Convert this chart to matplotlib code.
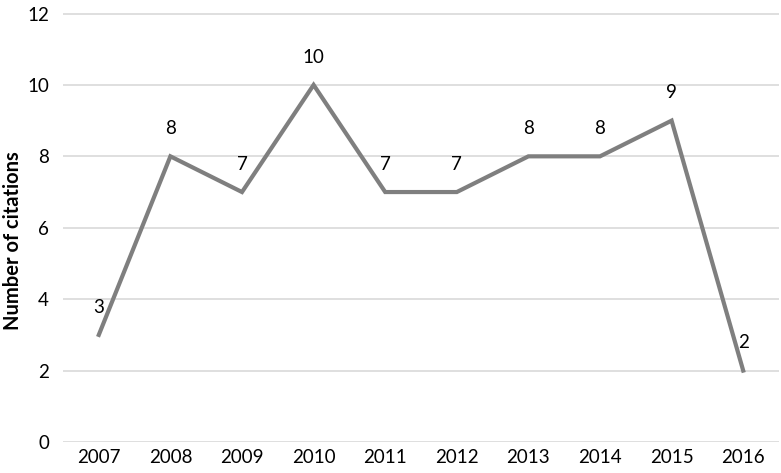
import matplotlib
matplotlib.use("Agg")
import matplotlib.pyplot as plt

years = ["2007", "2008", "2009", "2010", "2011", "2012", "2013", "2014", "2015", "2016"]
citations = [3, 8, 7, 10, 7, 7, 8, 8, 9, 2]

plt.rcParams['font.family'] = ['Lato', 'DejaVu Sans']

fig = plt.figure(figsize=(7.81, 4.73), dpi=100)
ax = fig.add_axes([63/781, 31/473, 716/781, 428.5/473])

x = range(len(years))
ax.plot(x, citations, color='#7f7f7f', linewidth=3.0, solid_joinstyle='miter')

for xi, v in zip(x, citations):
    ax.annotate(str(v), (xi, v), xytext=(0, 16), textcoords='offset points',
                ha='center', va='baseline', fontsize=13.5, color='#000000')

ax.set_xlim(-0.5, len(years) - 0.5)
ax.set_ylim(0, 12)
ax.set_yticks(range(0, 13, 2))
ax.set_xticks(list(x))
ax.set_xticklabels(years)
ax.tick_params(axis='both', length=0, labelsize=13.5, colors='#000000')
ax.tick_params(axis='y', pad=10)
ax.tick_params(axis='x', pad=5)
ax.yaxis.grid(True, color='#d9d9d9', linewidth=1.2)
ax.set_axisbelow(True)
for s in ax.spines.values():
    s.set_visible(False)
ax.set_ylabel('Number of citations', fontsize=14.5, fontweight='bold')
ax.yaxis.set_label_coords(-0.056, 0.47)

plt.savefig("out.png", dpi=100)
